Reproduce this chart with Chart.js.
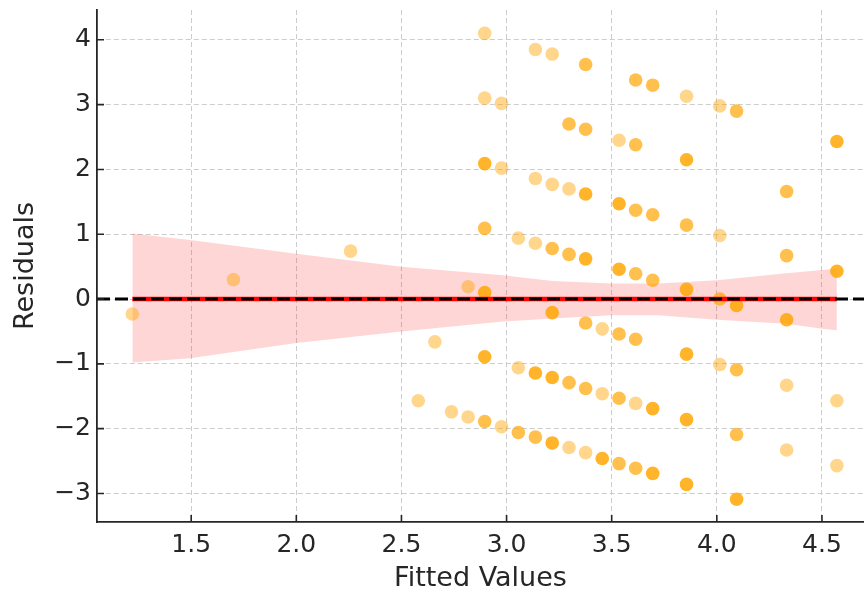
<!DOCTYPE html>
<html>
<head>
<meta charset="utf-8">
<script src="https://cdn.jsdelivr.net/npm/chart.js@4.4.1/dist/chart.umd.min.js"></script>
<style>
	html, body { margin: 0; padding: 0; background: #fff; }
	#wrap { width: 864px; height: 595px; position: relative; }
</style>
</head>
<body>
<div id="wrap"><canvas id="resid-chart"></canvas></div>
<script>
//residual points (x = fitted value, y = residual, count = overlapping points)
let fittedX = [
	1.220, 1.701, 2.258, 2.580, 2.659, 2.738, 2.817, 2.817,
	2.896, 2.896, 2.896, 2.896, 2.896, 2.896, 2.896,
	2.976, 2.976, 2.976,
	3.056, 3.056, 3.056,
	3.137, 3.137, 3.137, 3.137, 3.137,
	3.217, 3.217, 3.217, 3.217, 3.217, 3.217,
	3.297, 3.297, 3.297, 3.297, 3.297,
	3.376, 3.376, 3.376, 3.376, 3.376, 3.376, 3.376,
	3.455, 3.455, 3.455,
	3.535, 3.535, 3.535, 3.535, 3.535, 3.535,
	3.614, 3.614, 3.614, 3.614, 3.614, 3.614, 3.614,
	3.695, 3.695, 3.695, 3.695, 3.695,
	3.856, 3.856, 3.856, 3.856, 3.856, 3.856, 3.856,
	4.014, 4.014, 4.014, 4.014,
	4.094, 4.094, 4.094, 4.094, 4.094,
	4.332, 4.332, 4.332, 4.332, 4.332,
	4.571, 4.571, 4.571, 4.571,
];
let residualY = [
	-0.23, 0.30, 0.74, -1.57, -0.66, -1.74, -1.82, 0.19,
	4.10, 3.10, 2.09, 1.09, 0.10, -0.89, -1.89,
	3.02, 2.02, -1.97,
	0.94, -1.06, -2.06,
	3.85, 1.86, 0.86, -1.14, -2.13,
	3.78, 1.77, 0.78, -0.21, -1.21, -2.22,
	2.70, 1.70, 0.69, -1.29, -2.29,
	3.62, 2.62, 1.62, 0.62, -0.37, -1.38, -2.37,
	-0.46, -1.46, -2.46,
	2.45, 1.47, 0.46, -0.54, -1.53, -2.54,
	3.38, 2.38, 1.37, 0.39, -0.62, -1.61, -2.61,
	3.30, 1.30, 0.29, -1.69, -2.69,
	3.13, 2.15, 1.14, 0.15, -0.85, -1.86, -2.86,
	2.98, 0.98, 0.00, -1.01,
	2.90, -0.10, -1.09, -2.09, -3.09,
	1.66, 0.67, -0.32, -1.33, -2.33,
	2.43, 0.43, -1.57, -2.57,
];
let overlapCount = [
	1, 1, 1, 1, 1, 1, 1, 1,
	1, 1, 3, 2, 3, 3, 2,
	1, 1, 1,
	1, 1, 2,
	1, 1, 1, 3, 2,
	1, 1, 2, 3, 3, 3,
	2, 1, 2, 2, 1,
	2, 2, 3, 3, 2, 2, 1,
	1, 1, 3,
	1, 3, 3, 2, 2, 2,
	2, 2, 2, 2, 2, 1, 2,
	2, 2, 2, 3, 3,
	1, 3, 2, 3, 3, 3, 3,
	1, 1, 2, 1,
	2, 3, 2, 2, 3,
	2, 2, 3, 1, 1,
	3, 3, 1, 1,
];

//fit line and its confidence band
let fitX = [1.220, 4.571];
let fitY = [0, 0];
let bandX = [1.22, 1.495, 2.0, 2.5, 2.97, 3.22, 3.5, 3.72, 4.0, 4.33, 4.5, 4.571];
let bandUpper = [1.01, 0.91, 0.70, 0.50, 0.37, 0.28, 0.24, 0.24, 0.29, 0.40, 0.45, 0.47];
let bandLower = [-0.98, -0.915, -0.68, -0.50, -0.35, -0.30, -0.25, -0.25, -0.32, -0.38, -0.46, -0.48];

//axes
let xLimits = [1.052, 4.70];
let yLimits = [-3.44, 4.46];
let xTickValues = [1.5, 2.0, 2.5, 3.0, 3.5, 4.0, 4.5];
let yTickValues = [-3, -2, -1, 0, 1, 2, 3, 4];

const textColor = "#262626";
const pointAlpha = 0.45;

function pts(xs, ys) {
	return xs.map((v, i) => ({ x: v, y: ys[i] }));
}

//draws the small ticks pointing into the plot, like the original
const inwardTicks = {
	id: "inwardTicks",
	afterDatasetsDraw(chart) {
		const { ctx, chartArea } = chart;
		const xs = chart.scales.x;
		const ys = chart.scales.y;
		ctx.save();
		ctx.strokeStyle = textColor;
		ctx.lineWidth = 1.6;
		ctx.beginPath();
		xs.ticks.forEach((t) => {
			let px = xs.getPixelForValue(t.value);
			ctx.moveTo(px, chartArea.bottom);
			ctx.lineTo(px, chartArea.bottom - 7);
		});
		ys.ticks.forEach((t) => {
			let py = ys.getPixelForValue(t.value);
			ctx.moveTo(chartArea.left, py);
			ctx.lineTo(chartArea.left + 7, py);
		});
		ctx.stroke();
		ctx.restore();
	},
};

let chartCTX = document.getElementById("resid-chart");
let residChart = new Chart(chartCTX, {
	type: "scatter",
	data: {
		datasets: [
			{
				//zero reference line
				type: "line",
				data: pts(xLimits, [0, 0]),
				borderColor: "#000",
				borderWidth: 3,
				borderDash: [13, 5],
				pointRadius: 0,
				order: 0,
			},
			{
				type: "line",
				data: pts(fitX, fitY),
				borderColor: "#ff0000",
				borderWidth: 4.5,
				pointRadius: 0,
				order: 1,
			},
			{
				data: pts(fittedX, residualY),
				backgroundColor: overlapCount.map(
					(n) => "rgba(255, 165, 0, " + (1 - Math.pow(1 - pointAlpha, n)).toFixed(3) + ")"
				),
				borderWidth: 0,
				pointRadius: 6.8,
				order: 2,
			},
			{
				type: "line",
				data: pts(bandX, bandLower),
				borderColor: "transparent",
				borderWidth: 0,
				pointRadius: 0,
				order: 3,
			},
			{
				type: "line",
				data: pts(bandX, bandUpper),
				borderColor: "transparent",
				borderWidth: 0,
				pointRadius: 0,
				fill: "-1",
				backgroundColor: "rgba(255, 0, 0, 0.16)",
				order: 3,
			},
		],
	},
	options: {
		responsive: true,
		maintainAspectRatio: false,
		animation: false,
		layout: { autoPadding: false, padding: { top: 10, right: 0, left: 0, bottom: 0 } },
		plugins: {
			legend: { display: false },
			tooltip: { enabled: false },
		},
		scales: {
			x: {
				type: "linear",
				min: xLimits[0],
				max: xLimits[1],
				afterBuildTicks: (s) => {
					s.ticks = xTickValues.map((v) => ({ value: v }));
				},
				afterFit: (s) => {
					s.height = 73;
					s.paddingLeft = 0;
					s.paddingRight = 0;
				},
				grid: { color: "#cccccc", lineWidth: 1, drawTicks: false },
				border: { display: true, color: textColor, width: 1.8, dash: [5, 3] },
				ticks: {
					color: textColor,
					padding: 8,
					font: { family: "DejaVu Sans", size: 25 },
					callback: (v) => Number(v).toFixed(1),
				},
				title: {
					display: true,
					text: "Fitted Values",
					color: textColor,
					font: { family: "DejaVu Sans", size: 27 },
					padding: { top: 0, bottom: 0 },
				},
			},
			y: {
				type: "linear",
				min: yLimits[0],
				max: yLimits[1],
				afterBuildTicks: (s) => {
					s.ticks = yTickValues.map((v) => ({ value: v }));
				},
				afterFit: (s) => {
					s.width = 97;
					s.paddingTop = 0;
					s.paddingBottom = 0;
				},
				grid: { color: "#cccccc", lineWidth: 1, drawTicks: false },
				border: { display: true, color: textColor, width: 1.8, dash: [5, 3] },
				ticks: {
					color: textColor,
					padding: 6,
					font: { family: "DejaVu Sans", size: 25 },
					callback: (v) => (v < 0 ? "\u2212" + Math.abs(v) : String(v)),
				},
				title: {
					display: true,
					text: "Residuals",
					color: textColor,
					font: { family: "DejaVu Sans", size: 27 },
					padding: { top: 10, bottom: 0 },
				},
			},
		},
	},
	plugins: [inwardTicks],
});
</script>
</body>
</html>
